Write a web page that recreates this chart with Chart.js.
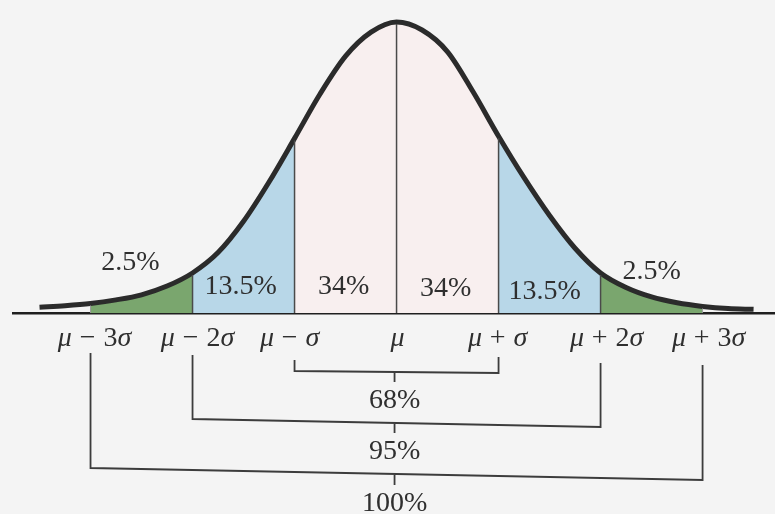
<!DOCTYPE html>
<html>
<head>
<meta charset="utf-8">
<title>Normal distribution</title>
<script src="https://cdn.jsdelivr.net/npm/chart.js@4.4.1/dist/chart.umd.min.js"></script>
<style>
  html, body { margin: 0; padding: 0; background: #f4f4f4; }
  #wrap { width: 775px; height: 514px; }
</style>
</head>
<body>
<div id="wrap"><canvas id="bellChart" width="775" height="514"></canvas></div>
<script>
// boundaries in sigma units and their labels
const sigmaSteps = [-3, -2, -1, 0, 1, 2, 3];
const tickLabels = ['μ − 3σ', 'μ − 2σ', 'μ − σ', 'μ', 'μ + σ', 'μ + 2σ', 'μ + 3σ'];

// share of each band, left to right
const bandCenters = [-2.5, -1.5, -0.5, 0.5, 1.5, 2.5];
const bandLabels = ['2.5%', '13.5%', '34%', '34%', '13.5%', '2.5%'];

// brackets under the axis: +/- k sigma
const bracketSpans = [1, 2, 3];
const bracketLabels = ['68%', '95%', '100%'];

// curve (x in sigma, height as density)
const curveS = [-3.5, -3.25, -3, -2.75, -2.5, -2.25, -2, -1.75, -1.5, -1.25, -1, -0.75, -0.5, -0.25, 0,
                0.25, 0.5, 0.75, 1, 1.25, 1.5, 1.75, 2, 2.25, 2.5, 2.75, 3, 3.25, 3.5];
const curveDensity = [0.008, 0.010, 0.013, 0.018, 0.025, 0.037, 0.055, 0.083, 0.126, 0.180, 0.240, 0.301, 0.353, 0.386, 0.400,
                      0.389, 0.359, 0.304, 0.243, 0.186, 0.134, 0.089, 0.055, 0.035, 0.022, 0.014, 0.009, 0.006, 0.005];

const SERIF = '"Liberation Serif", "DejaVu Serif", serif';
const INK = '#2f2f2f';

function bandColor(s) {
    const a = Math.abs(s);
    if (a < 1) return 'rgba(248, 239, 239, 1)';
    if (a < 2) return 'rgba(184, 215, 232, 1)';
    if (a < 3) return 'rgba(122, 166, 110, 1)';
    return 'rgba(0,0,0,0)';
}

function heightAt(s) {
    return curveDensity[curveS.indexOf(s)];
}

// draw a label where mu and sigma are italic, with a little air round the sign
function drawMixed(ctx, text, cx, baseY, size) {
    const gap = size * 0.28;
    const pieces = [];
    for (const ch of text.replace(/ /g, '')) {
        const it = (ch === 'μ' || ch === 'σ');
        const sign = (ch === '−' || ch === '+');
        pieces.push({ t: ch, it: it, pad: sign ? gap : 0 });
    }
    let total = 0;
    pieces.forEach(p => {
        ctx.font = (p.it ? 'italic ' : '') + size + 'px ' + SERIF;
        p.w = ctx.measureText(p.t).width;
        total += p.w + 2 * p.pad;
    });
    let x = cx - total / 2;
    ctx.textAlign = 'left';
    ctx.textBaseline = 'alphabetic';
    pieces.forEach(p => {
        ctx.font = (p.it ? 'italic ' : '') + size + 'px ' + SERIF;
        x += p.pad;
        ctx.fillText(p.t, x, baseY);
        x += p.w + p.pad;
    });
}

const diagramPlugin = {
    id: 'diagram',
    afterDatasetsDraw(chart) {
        const ctx = chart.ctx;
        const xs = chart.scales.x, ys = chart.scales.y;
        const y0 = ys.getPixelForValue(0);
        ctx.save();
        // vertical band dividers
        sigmaSteps.forEach(s => {
            const edge = Math.abs(s) === 3;
            ctx.strokeStyle = edge ? '#9a9a9a' : '#4a4a4a';
            ctx.lineWidth = edge ? 1 : 1.5;
            const x = xs.getPixelForValue(s);
            ctx.beginPath();
            ctx.moveTo(x, y0);
            ctx.lineTo(x, ys.getPixelForValue(heightAt(s)) + 2);
            ctx.stroke();
        });
        ctx.restore();
    },
    afterDraw(chart) {
        const ctx = chart.ctx;
        const xs = chart.scales.x;
        ctx.save();
        ctx.fillStyle = INK;

        // band percentages
        const bandShift = [-11, -3, -2, -2, -5, 0];
        const bandBase = [270, 294, 294, 296, 299, 279];
        ctx.font = '28px ' + SERIF;
        ctx.textAlign = 'center';
        ctx.textBaseline = 'alphabetic';
        bandLabels.forEach((t, i) => {
            ctx.fillText(t, xs.getPixelForValue(bandCenters[i]) + bandShift[i], bandBase[i]);
        });

        // axis labels
        const tickShift = [4, 5, -5, 1, -1, 6, 6];
        tickLabels.forEach((t, i) => {
            drawMixed(ctx, t, xs.getPixelForValue(sigmaSteps[i]) + tickShift[i], 346, 28);
        });

        // brackets
        const br = [
            { topL: 360, topR: 357, botL: 371, botR: 373, tick: 10, text: 408 },
            { topL: 355, topR: 363, botL: 419, botR: 427, tick: 10, text: 459 },
            { topL: 353, topR: 365, botL: 468, botR: 480, tick: 11, text: 511 }
        ];
        ctx.strokeStyle = '#3c3c3c';
        ctx.lineWidth = 1.8;
        const xc = xs.getPixelForValue(0) - 2;
        bracketSpans.forEach((k, i) => {
            const b = br[i];
            const xl = xs.getPixelForValue(-k), xr = xs.getPixelForValue(k);
            ctx.beginPath();
            ctx.moveTo(xl, b.topL);
            ctx.lineTo(xl, b.botL);
            ctx.lineTo(xr, b.botR);
            ctx.lineTo(xr, b.topR);
            const ym = b.botL + (b.botR - b.botL) * (xc - xl) / (xr - xl);
            ctx.moveTo(xc, ym);
            ctx.lineTo(xc, ym + b.tick);
            ctx.stroke();
            ctx.font = '28px ' + SERIF;
            ctx.textAlign = 'center';
            ctx.fillText(bracketLabels[i], xc, b.text);
        });
        ctx.restore();
    }
};

const points = curveS.map((s, i) => ({ x: s, y: curveDensity[i] }));

const ctx = document.getElementById('bellChart').getContext('2d');
const bellChart = new Chart(ctx, {
    type: 'line',
    data: {
        datasets: [{
            label: 'Normal curve',
            data: points,
            borderColor: '#2b2b2b',
            borderWidth: 5,
            pointRadius: 0,
            cubicInterpolationMode: 'monotone',
            fill: false,
            order: 0
        }, {
            label: 'Bands',
            data: points,
            borderWidth: 0,
            borderColor: 'rgba(0,0,0,0)',
            pointRadius: 0,
            cubicInterpolationMode: 'monotone',
            fill: 'origin',
            backgroundColor: 'rgba(0,0,0,0)',
            segment: {
                backgroundColor: c => bandColor((curveS[c.p0DataIndex] + curveS[c.p1DataIndex]) / 2)
            },
            order: 1
        }]
    },
    options: {
        responsive: false,
        animation: false,
        layout: { padding: { left: 13, right: 0, top: 0, bottom: 0 } },
        scales: {
            x: {
                type: 'linear',
                min: -3.76,
                max: 3.71,
                position: { y: 0 },
                grid: { display: false },
                ticks: { display: false },
                border: { display: true, color: '#1f1f1f', width: 2.5 }
            },
            y: {
                display: false,
                min: -0.2763,
                max: 0.4302
            }
        },
        plugins: {
            legend: { display: false },
            tooltip: { enabled: false }
        }
    },
    plugins: [diagramPlugin]
});
</script>
</body>
</html>
